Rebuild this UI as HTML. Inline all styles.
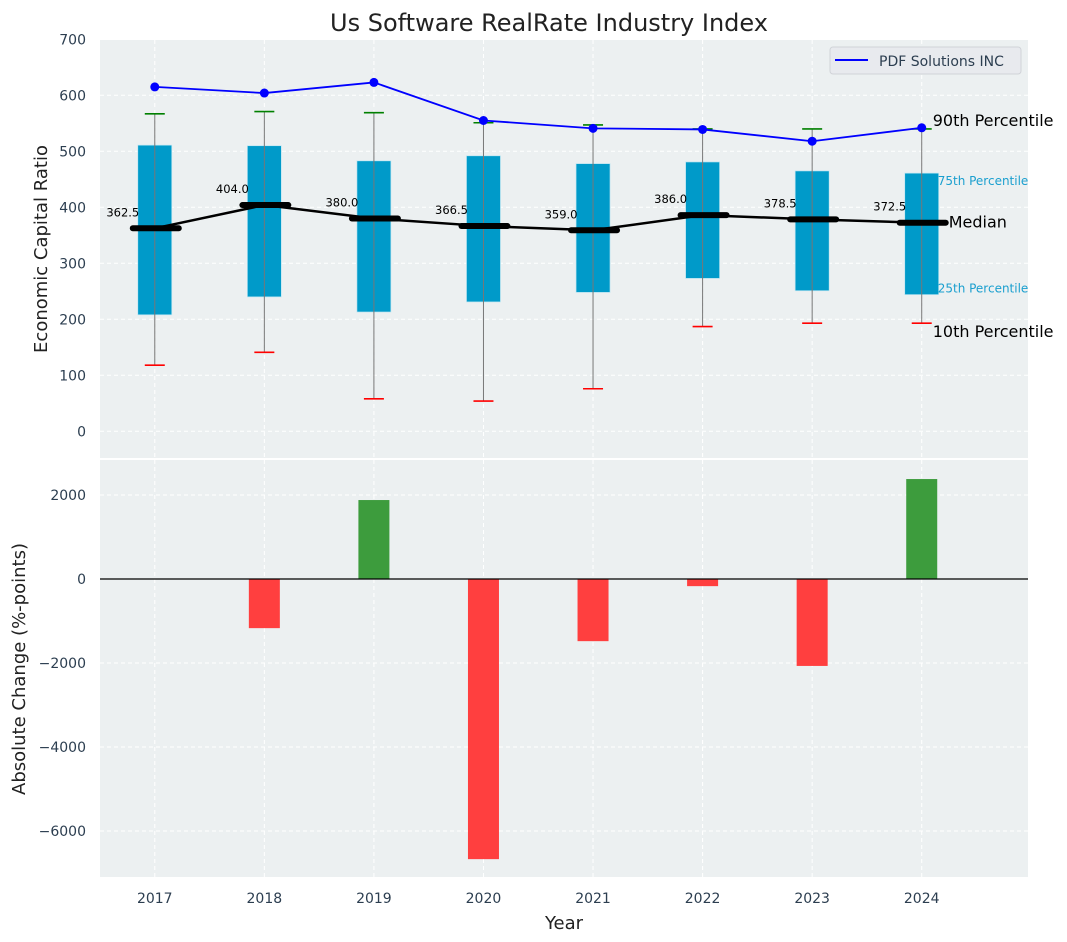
<!DOCTYPE html>
<html><head><meta charset="utf-8"><style>
body{margin:0;background:#fff;}
svg{display:block;font-family:"DejaVu Sans","Liberation Sans",sans-serif;}
</style></head><body>
<svg id="c" width="1067" height="942" xmlns="http://www.w3.org/2000/svg"></svg>
<script>
const years=[2017,2018,2019,2020,2021,2022,2023,2024];
const p10=[118,141,58,54,76,187,193,193];
const q25=[208,240,213,231,248,273,251,244];
const medians=[362.5,404.0,380.0,366.5,359.0,386.0,378.5,372.5];
const q75=[511,510,483,492,478,481,465,461];
const p90=[567,571,569,551,547,540,540,540];
const company=[615,604,623,555,541,539,518,542];
const changes=[0,-1170,1880,-6670,-1480,-170,-2070,2380];
const topTicks=[0,100,200,300,400,500,600,700];
const botTicks=[-6000,-4000,-2000,0,2000];

const NS="http://www.w3.org/2000/svg";
const svg=document.getElementById('c');
function el(t,a,p){const e=document.createElementNS(NS,t);for(const k in a)e.setAttribute(k,a[k]);(p||svg).appendChild(e);return e;}
const L=100,R=1028;
const x=v=>L+(v-2016.5)/(2024.97-2016.5)*(R-L);
const yT=v=>431.3-v*0.56;
const yB=v=>579-v*0.042;
const TT=40,TB=458,BT=460,BB=877;
let e;
e=el('rect',{x:L,y:TT,width:R-L,height:TB-TT,fill:'#ecf0f1'});

e=el('rect',{x:L,y:BT,width:R-L,height:BB-BT,fill:'#ecf0f1'});

years.forEach(yr=>{[[TT,TB],[BT,BB]].forEach(r=>{
 e=el('line',{x1:x(yr),x2:x(yr),y1:r[0],y2:r[1],stroke:'#fff','stroke-dasharray':'4,3','stroke-width':1});
 });
 e=el('text',{x:x(yr),y:BB+26,'text-anchor':'middle','font-size':14,fill:'#2c3e50'});e.textContent=yr;
 
});
topTicks.forEach(t=>{
 e=el('line',{x1:L,x2:R,y1:yT(t),y2:yT(t),stroke:'#fff','stroke-dasharray':'4,3'});
 
 e=el('text',{x:L-14,y:yT(t)+5,'text-anchor':'end','font-size':14,fill:'#2c3e50'});e.textContent=t;
 
});
botTicks.forEach(t=>{
 e=el('line',{x1:L,x2:R,y1:yB(t),y2:yB(t),stroke:'#fff','stroke-dasharray':'4,3'});
 
 e=el('text',{x:L-14,y:yB(t)+5,'text-anchor':'end','font-size':14,fill:'#2c3e50'});e.textContent=(t<0?'\u2212'+(-t):t);
 
});
years.forEach((yr,i)=>{
 const cx=x(yr);
 e=el('rect',{x:cx-17,y:yT(q75[i]),width:34,height:yT(q25[i])-yT(q75[i]),fill:'#009ac9',stroke:'#bfe6f2','stroke-width':0.7});
 
 e=el('line',{x1:cx,x2:cx,y1:yT(p90[i]),y2:yT(p10[i]),stroke:'#777','stroke-width':1});
 
 e=el('line',{x1:cx-10,x2:cx+10,y1:yT(p90[i]),y2:yT(p90[i]),stroke:'green','stroke-width':1.6});
 
 e=el('line',{x1:cx-10,x2:cx+10,y1:yT(p10[i]),y2:yT(p10[i]),stroke:'red','stroke-width':1.6});
 
});
e=el('polyline',{points:years.map((yr,i)=>x(yr)+','+yT(medians[i])).join(' '),fill:'none',stroke:'#000','stroke-width':2.5});

years.forEach((yr,i)=>{
 const cx=x(yr);
 e=el('line',{x1:cx-22,x2:cx+24,y1:yT(medians[i]),y2:yT(medians[i]),stroke:'#000','stroke-width':6,'stroke-linecap':'round'});
 
 e=el('text',{x:cx-32,y:yT(medians[i])-12,'text-anchor':'middle','font-size':11.5,fill:'#000'});e.textContent=medians[i].toFixed(1);
 
});
e=el('polyline',{points:years.map((yr,i)=>x(yr)+','+yT(company[i])).join(' '),fill:'none',stroke:'#0000ff','stroke-width':1.8});

years.forEach((yr,i)=>{e=el('circle',{cx:x(yr),cy:yT(company[i]),r:4.5,fill:'#0000ff'});
 });
const ax=x(years[7]);
[['90th Percentile',p90[7],'#000',16,11,-8],['75th Percentile',q75[7],'#1a9fcf',12,16,8],['Median',medians[7],'#000',16,27,0],['25th Percentile',q25[7],'#1a9fcf',12,16,-6],['10th Percentile',p10[7],'#000',16,11,9]].forEach(a=>{
 e=el('text',{x:ax+a[4],y:yT(a[1])+a[5]+(a[3]>14?5:4),'font-size':a[3],fill:a[2]});e.textContent=a[0];
 
});
e=el('rect',{x:830,y:47,width:191,height:27,rx:3,fill:'#e8eaee',stroke:'#d0d3d8'});

e=el('line',{x1:835,x2:868,y1:60,y2:60,stroke:'#0000ff','stroke-width':2});

e=el('text',{x:879,y:66,'font-size':14,fill:'#2c3e50'});e.textContent='PDF Solutions INC';

years.forEach((yr,i)=>{if(changes[i]===0)return;
 const v=changes[i];
 e=el('rect',{x:x(yr)-15.5,y:Math.min(yB(v),yB(0)),width:31,height:Math.abs(yB(v)-yB(0)),fill:v>0?'#3d9c3d':'#ff3f3f'});
 });
e=el('line',{x1:L,x2:R,y1:yB(0),y2:yB(0),stroke:'#000','stroke-width':1.2});

e=el('text',{x:549,y:31,'text-anchor':'middle','font-size':24,fill:'#222'});e.textContent='Us Software RealRate Industry Index';

e=el('text',{x:0,y:0,'text-anchor':'middle','font-size':18,fill:'#222',transform:'translate(47,249) rotate(-90)'});e.textContent='Economic Capital Ratio';

e=el('text',{x:0,y:0,'text-anchor':'middle','font-size':18,fill:'#222',transform:'translate(25,669) rotate(-90)'});e.textContent='Absolute Change (%-points)';

e=el('text',{x:564,y:929,'text-anchor':'middle','font-size':18,fill:'#222'});e.textContent='Year';

</script>
</body></html>
